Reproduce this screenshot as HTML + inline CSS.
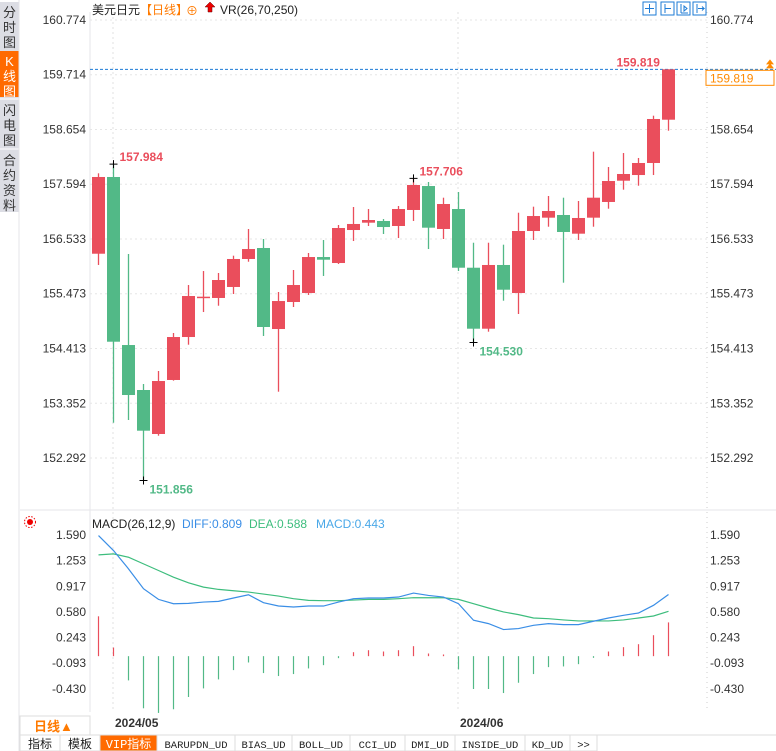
<!DOCTYPE html>
<html><head><meta charset="utf-8"><style>
html,body{margin:0;padding:0;background:#fff;}
body{width:776px;height:751px;overflow:hidden;position:relative;font-family:"Liberation Sans","Noto Sans CJK SC",sans-serif;}
svg{position:absolute;left:0;top:0;}
</style></head><body>
<svg id="chart" width="776" height="751">
  <rect x="0" y="0" width="776" height="751" fill="#fff"/>
  <!-- sidebar -->
  <g font-size="13" text-anchor="middle" fill="#333">
    <rect x="0" y="2" width="19" height="210" fill="#dcdde4"/>
    <g><text x="9.5" y="17">分</text><text x="9.5" y="32">时</text><text x="9.5" y="47">图</text></g>
    <rect x="0" y="51" width="19" height="46" fill="#ff6a00"/>
    <g fill="#fff"><text x="9.5" y="66">K</text><text x="9.5" y="81">线</text><text x="9.5" y="96">图</text></g>
    <line x1="0" y1="99" x2="19" y2="99" stroke="#fff"/>
    <g><text x="9.5" y="115">闪</text><text x="9.5" y="130">电</text><text x="9.5" y="145">图</text></g>
    <line x1="0" y1="149" x2="19" y2="149" stroke="#fff"/>
    <g><text x="9.5" y="165">合</text><text x="9.5" y="180">约</text><text x="9.5" y="195">资</text><text x="9.5" y="210">料</text></g>
  </g>
  <line x1="19" y1="0" x2="19" y2="751" stroke="#e4e4e8"/>
  <!-- header -->
  <g font-size="12">
    <text x="92" y="14" fill="#222">美元日元</text>
    <text x="140" y="14" fill="#ff7a00">【日线】</text>
    <text x="186" y="15" fill="#ff7a00" font-size="12">⊕</text>
    <path d="M210 2 l-5 5 h3 v5 h4 v-5 h3 z" fill="#e00" stroke="#600" stroke-width="0.5"/>
    <text x="220" y="14" fill="#222">VR(26,70,250)</text>
  </g>
  <g fill="none" stroke="#1d7bd6" stroke-width="1">
    <rect x="643" y="2" width="13" height="13"/>
    <rect x="661" y="2" width="13" height="13"/>
    <rect x="677" y="2" width="13" height="13"/>
    <rect x="693" y="2" width="13" height="13"/>
    <path d="M649.5 4v9M645 8.5h9M665 4v9M665 8.5h6M681 4v9M681 13h7M684 6l3 2.5-3 2.5z M697 4v9M698 8.5h6l-2-2M702 10.5l2-2"/>
  </g>
  <g id="price"></g>
  <g id="macd"></g>
  <!-- bottom -->
  <g>
    <rect x="20" y="716" width="70" height="19" fill="#fff" stroke="#ddd"/>
    <text x="34" y="731" fill="#ff7a00" font-size="13" font-weight="bold">日线▲</text>
  </g>
  <text x="115" y="727" font-size="12" font-weight="bold" fill="#333">2024/05</text>
  <text x="460" y="727" font-size="12" font-weight="bold" fill="#333">2024/06</text>
  <g id="tabs" font-family="Liberation Mono, Noto Sans CJK SC, monospace" font-size="11"></g>
</svg>
<script>
const NS='http://www.w3.org/2000/svg';
const opens=[156.248,157.734,154.480,153.609,152.757,153.803,154.635,155.391,155.391,155.604,156.146,156.359,154.790,155.313,155.487,156.184,156.068,156.707,156.849,156.882,156.785,157.095,157.559,156.727,157.114,155.977,154.796,156.030,155.487,156.688,156.946,156.998,156.636,156.946,157.250,157.662,157.772,158.005,158.843];
const closes=[157.734,154.544,153.512,152.821,153.783,154.635,155.429,155.416,155.739,156.146,156.339,154.829,155.332,155.642,156.184,156.132,156.746,156.824,156.901,156.765,157.114,157.579,156.752,157.211,155.977,154.796,156.030,155.551,156.688,156.978,157.075,156.669,156.940,157.333,157.656,157.792,158.005,158.857,159.819];
const highs=[157.805,157.984,156.243,153.725,153.977,154.713,155.642,155.913,155.875,156.210,156.727,156.533,155.507,155.933,156.262,156.514,156.804,157.153,157.114,156.920,157.172,157.706,157.637,157.333,157.443,156.461,156.461,156.423,157.042,157.159,157.366,157.333,157.269,158.224,157.927,158.198,158.102,158.921,159.819];
const lows=[156.030,152.976,153.028,151.856,152.724,153.790,154.486,155.119,155.241,155.468,156.093,154.655,153.576,155.216,155.449,155.817,156.049,156.494,156.785,156.630,156.552,156.882,156.339,156.533,155.913,154.530,154.738,155.338,155.081,156.514,156.771,155.687,156.514,156.771,157.120,157.488,157.565,157.772,158.630];
const priceTicks=[160.774,159.714,158.654,157.594,156.533,155.473,154.413,153.352,152.292];
const diffVals=[1.582,1.386,1.146,0.885,0.745,0.688,0.693,0.710,0.719,0.763,0.806,0.702,0.658,0.645,0.658,0.658,0.710,0.754,0.763,0.763,0.776,0.828,0.797,0.776,0.688,0.471,0.427,0.349,0.362,0.405,0.427,0.414,0.414,0.458,0.501,0.536,0.566,0.667,0.809];
const deaVals=[1.329,1.342,1.298,1.211,1.124,1.037,0.963,0.906,0.876,0.858,0.841,0.815,0.789,0.754,0.732,0.728,0.728,0.736,0.745,0.745,0.754,0.767,0.767,0.767,0.745,0.688,0.632,0.580,0.545,0.501,0.492,0.475,0.462,0.462,0.462,0.475,0.501,0.527,0.588];
const histVals=[0.523,0.113,-0.318,-0.684,-0.745,-0.697,-0.536,-0.423,-0.305,-0.183,-0.083,-0.222,-0.261,-0.235,-0.161,-0.118,-0.026,0.052,0.078,0.061,0.078,0.131,0.035,0.022,-0.174,-0.431,-0.431,-0.484,-0.349,-0.235,-0.144,-0.135,-0.105,-0.022,0.061,0.118,0.157,0.275,0.443];
const macdTicks=[1.590,1.253,0.917,0.580,0.243,-0.093,-0.430];
const tabNames=['指标','模板','VIP指标','BARUPDN_UD','BIAS_UD','BOLL_UD','CCI_UD','DMI_UD','INSIDE_UD','KD_UD','>>'];

const X=i=>98.5+i*15;
const PY=p=>20+(160.774-p)*51.64;
const MY=v=>535+(1.59-v)*76.2;
const UP='#ea4e5c', DN='#52b987';
function mk(tag,attrs,parent){const e=document.createElementNS(NS,tag);for(const k in attrs)e.setAttribute(k,attrs[k]);parent.appendChild(e);return e;}
const P=document.getElementById('price'), M=document.getElementById('macd');

// frame + grid
mk('line',{x1:90,y1:12,x2:90,y2:712,stroke:'#e6e6ea'},P);
mk('line',{x1:707,y1:12,x2:707,y2:712,stroke:'#ccc','stroke-dasharray':'1,4'},P);
mk('line',{x1:20,y1:510,x2:776,y2:510,stroke:'#e6e6ea'},P);
[113,458].forEach(x=>mk('line',{x1:x,y1:12,x2:x,y2:712,stroke:'#e2e2e2','stroke-dasharray':'2,3'},P));
priceTicks.forEach(t=>{
  const y=PY(t);
  const g=mk('line',{x1:90,y1:y,x2:707,y2:y,stroke:'#e6e6e6','stroke-dasharray':'2,3'},P);
  
  
  const a=mk('text',{x:86,y:y+4,'text-anchor':'end','font-size':12,fill:'#333'},P);a.textContent=t.toFixed(3);
  
  
  const b=mk('text',{x:710,y:y+4,'font-size':12,fill:'#333'},P);b.textContent=t.toFixed(3);
  
  
});
// last price line
const lastC=closes[closes.length-1];
mk('line',{x1:90,y1:PY(lastC),x2:776,y2:PY(lastC),stroke:'#1d7bd6','stroke-dasharray':'3,2'},P);
const lb=mk('rect',{x:706,y:PY(lastC)+1,width:68,height:15,fill:'#fff',stroke:'#ff8a00'},P);


const lt=mk('text',{x:710,y:PY(lastC)+13,'font-size':12,fill:'#ff8a00'},P);lt.textContent=lastC.toFixed(3);
mk('path',{d:`M766 ${PY(lastC)-1} l4 -5 l4 5 z M766 ${PY(lastC)-5} l4 -5 l4 5 z`,fill:'#ff8a00'},P);

// candles
for(let i=0;i<opens.length;i++){
  const up=closes[i]>=opens[i], c=up?UP:DN, x=X(i);
  const w=mk('line',{x1:x,y1:PY(highs[i]),x2:x,y2:PY(lows[i]),stroke:c,'stroke-width':1.3},P);
  
  
  const top=PY(Math.max(opens[i],closes[i])), bot=PY(Math.min(opens[i],closes[i]));
  const r=mk('rect',{x:x-6.5,y:top,width:13,height:Math.max(1.5,bot-top),fill:c},P);
  
  
}
// annotations of extremes
function mark(i,val,below,col){
  const x=X(i),y=PY(val);
  mk('path',{d:`M${x-4} ${y}h8M${x} ${y-4}v8`,stroke:'#000','stroke-width':1},P);
  const t=mk('text',{x:x+6,y:below?y+13:y-3,'font-size':12,'font-weight':'bold',fill:col},P);t.textContent=val.toFixed(3);
  
  
}
mark(1,highs[1],false,UP);mark(3,lows[3],true,DN);mark(21,highs[21],false,UP);mark(25,lows[25],true,DN);
{const t=mk('text',{x:X(38)-52,y:PY(highs[38])-3,'font-size':12,'font-weight':'bold',fill:UP},P);t.textContent=highs[38].toFixed(3);}

// MACD
mk('circle',{cx:30,cy:522,r:3,fill:'#e00'},M);
mk('circle',{cx:30,cy:522,r:5.5,fill:'none',stroke:'#e00','stroke-dasharray':'1.5,1.5'},M);
const lg=[['MACD(26,12,9)','#222'],['DIFF:0.809','#3a8ee6'],['DEA:0.588','#3dbd7d'],['MACD:0.443','#4aa8e8']];
let lx=92;const lxs=[92,182,249,316];
lg.forEach((l,k)=>{const t=mk('text',{x:lxs[k],y:528,'font-size':12,fill:l[1]},M);t.textContent=l[0];
  
  });
macdTicks.forEach(t=>{
  const y=MY(t);
  const a=mk('text',{x:86,y:y+4,'text-anchor':'end','font-size':12,fill:'#333'},M);a.textContent=t.toFixed(3);
  
  
  const b=mk('text',{x:710,y:y+4,'font-size':12,fill:'#333'},M);b.textContent=t.toFixed(3);
  
  
});
histVals.forEach((v,i)=>{
  const l=mk('line',{x1:X(i),y1:MY(0),x2:X(i),y2:MY(v),stroke:v>=0?UP:DN,'stroke-width':1.2},M);
  
  
});
function poly(vals,col,name){
  const p=mk('polyline',{points:vals.map((v,i)=>X(i)+','+MY(v)).join(' '),fill:'none',stroke:col,'stroke-width':1.2},M);
  
  
}
poly(deaVals,'#3dbd7d','dea-line');
poly(diffVals,'#3a8ee6','diff-line');

// tabs
const T=document.getElementById('tabs');
const tw=[40,40,57,78,57,58,55,50,70,45,27];
let tx=20;
mk('line',{x1:20,y1:735,x2:776,y2:735,stroke:'#ddd'},T);
tabNames.forEach((n,k)=>{
  const active=k===2;
  const r=mk('rect',{x:tx,y:735,width:tw[k],height:16,fill:active?'#ff6a00':'#fff',stroke:'#ddd'},T);
  
  
  const t=mk('text',{x:tx+tw[k]/2,y:748,'text-anchor':'middle',fill:active?'#fff':'#222','font-size':k<3?12:10.5},T);t.textContent=n;
  tx+=tw[k];
});
</script>
</body></html>
